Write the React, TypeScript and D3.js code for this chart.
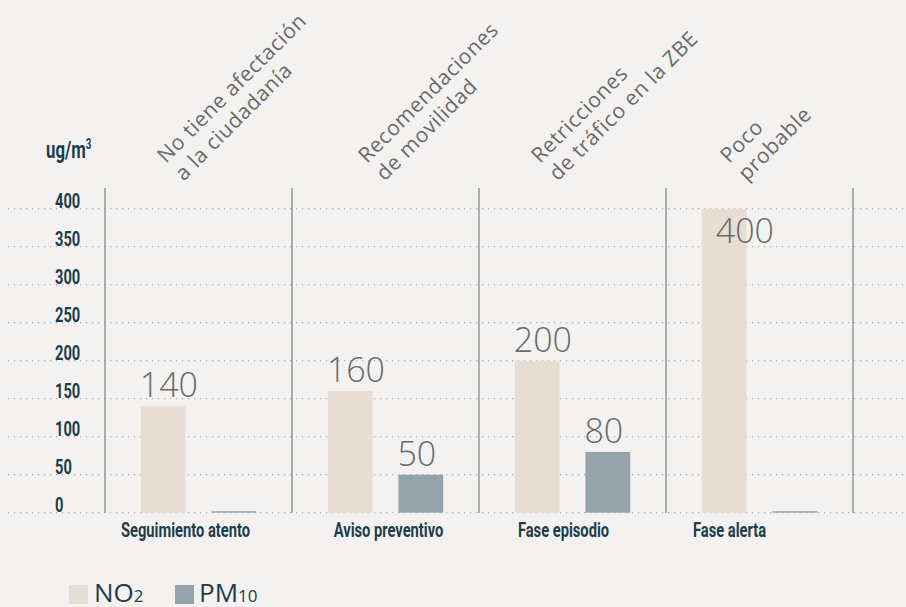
import React from "react";
import * as d3 from "d3";

const categories = ["Seguimiento atento", "Aviso preventivo", "Fase episodio", "Fase alerta"];
const series = ["NO2", "PM10"];
const no2Values = [140, 160, 200, 400];
const pm10Values = [0, 50, 80, 0];
const effectLabels = [
  ["No tiene afectación", "a la ciudadanía"],
  ["Recomendaciones", "de movilidad"],
  ["Retricciones", "de tráfico en la ZBE"],
  ["Poco", "probable"],
];
const yTicks = [0, 50, 100, 150, 200, 250, 300, 350, 400];
const yUnit = "ug/m";

// layout tweaks (pixels), not data
const CAT_LABEL_NUDGE = [0, 16, 4, -17];
const EFFECT_LABEL_NUDGE = [0, 14, 0, 2];

const W = 906;
const H = 607;
const BG = "#f4f2f0";
const NO2_COLOR = "#e6ddd3";
const PM_COLOR = "#95a3ab";
const DARK = "#1e3d4b";
const GRAY_TEXT = "#6a6a6a";
const CONDENSED = "Roboto, 'Liberation Sans', sans-serif";
const LIGHT = "'Open Sans', 'Lato', sans-serif";
const SQUEEZE = 0.7;

function CondText(props: {
  x: number;
  y: number;
  size: number;
  anchor?: string;
  children: React.ReactNode;
}) {
  return (
    <text
      transform={`translate(${props.x},${props.y}) scale(${SQUEEZE},1)`}
      textAnchor={props.anchor || "start"}
      fontFamily={CONDENSED}
      fontWeight={700}
      fontSize={props.size}
      fill={DARK}
    >
      {props.children}
    </text>
  );
}

export default function App() {
  const y = d3.scaleLinear().domain([0, 400]).range([512.7, 208.7]);
  const x0 = d3.scaleBand<string>().domain(categories).range([105, 853]).paddingInner(0).paddingOuter(0);
  const x1 = d3
    .scaleBand<string>()
    .domain(series)
    .range([0, x0.bandwidth()])
    .paddingInner(0.366)
    .paddingOuter(0.507);
  const separators = [...categories.map((c) => x0(c) as number), 853];
  const yMax = y.domain()[1];

  const rows = categories.map((c, i) => ({
    cat: c,
    vals: [
      { s: "NO2", v: no2Values[i], color: NO2_COLOR },
      { s: "PM10", v: pm10Values[i], color: PM_COLOR },
    ],
  }));

  return (
    <svg
      width={W}
      height={H}
      style={{ position: "absolute", left: 0, top: 0, display: "block" }}
    >
      <rect x={0} y={0} width={W} height={H} fill={BG} />
      {/* gridlines */}
      {yTicks.map((t) => (
        <line
          key={"g" + t}
          x1={8}
          x2={W}
          y1={y(t)}
          y2={y(t)}
          stroke="#9fabb2"
          strokeWidth={1.2}
          strokeDasharray="1.2 4.8"
        />
      ))}
      {/* tick labels */}
      {yTicks.map((t) => (
        <CondText key={"t" + t} x={55} y={y(t) - 1} size={21}>
          {t}
        </CondText>
      ))}
      {/* y unit */}
      <CondText x={46} y={158} size={24}>
        {yUnit}
        <tspan fontSize={14} dy={-9}>3</tspan>
      </CondText>
      {/* separators */}
      {separators.map((sx, i) => (
        <line key={"s" + i} x1={sx} x2={sx} y1={188} y2={513} stroke="#9a9a9a" strokeWidth={1.6} />
      ))}
      {/* bars */}
      {rows.map((r) => (
        <g key={r.cat} transform={`translate(${x0(r.cat)},0)`}>
          {r.vals.map((d) => {
            const bx = x1(d.s) as number;
            const top = y(d.v);
            const h = Math.max(y(0) - top, 1.5);
            return (
              <rect key={d.s} x={bx} y={y(0) - h} width={x1.bandwidth()} height={h} fill={d.color} />
            );
          })}
          {r.vals
            .filter((d) => d.v > 0)
            .map((d) => {
              const bx = x1(d.s) as number;
              const inside = d.v >= yMax;
              return (
                <text
                  key={"l" + d.s}
                  x={inside ? bx + 14 : bx - 1}
                  y={inside ? y(d.v) + 34 : y(d.v) - 9}
                  fontFamily={LIGHT}
                  fontWeight={300}
                  fontSize={34}
                  fill={GRAY_TEXT}
                >
                  {d.v}
                </text>
              );
            })}
        </g>
      ))}
      {/* category labels */}
      {categories.map((c, i) => (
        <CondText
          key={"c" + c}
          x={(x0(c) as number) + x0.bandwidth() / 2 - 13 + CAT_LABEL_NUDGE[i]}
          y={537}
          size={21}
          anchor="middle"
        >
          {c}
        </CondText>
      ))}
      {/* rotated effect labels */}
      {categories.map((c, i) => (
        <text
          key={"e" + c}
          transform={`translate(${(x0(c) as number) + 61 + EFFECT_LABEL_NUDGE[i]},164) rotate(-45)`}
          fontFamily={LIGHT}
          fontWeight={400}
          fontSize={21}
          letterSpacing={0.6}
          fill={GRAY_TEXT}
        >
          <tspan x={0} dy={0}>{effectLabels[i][0]}</tspan>
          <tspan x={0} dy={25}>{effectLabels[i][1]}</tspan>
        </text>
      ))}
      {/* legend */}
      <rect x={69} y={585} width={19} height={19} fill={NO2_COLOR} />
      <text x={94} y={602} fontFamily={LIGHT} fontSize={26} fill={DARK}>
        NO<tspan fontSize={17}>2</tspan>
      </text>
      <rect x={175} y={585} width={19} height={19} fill={PM_COLOR} />
      <text x={199} y={602} fontFamily={LIGHT} fontSize={26} fill={DARK}>
        PM<tspan fontSize={17}>10</tspan>
      </text>
    </svg>
  );
}
